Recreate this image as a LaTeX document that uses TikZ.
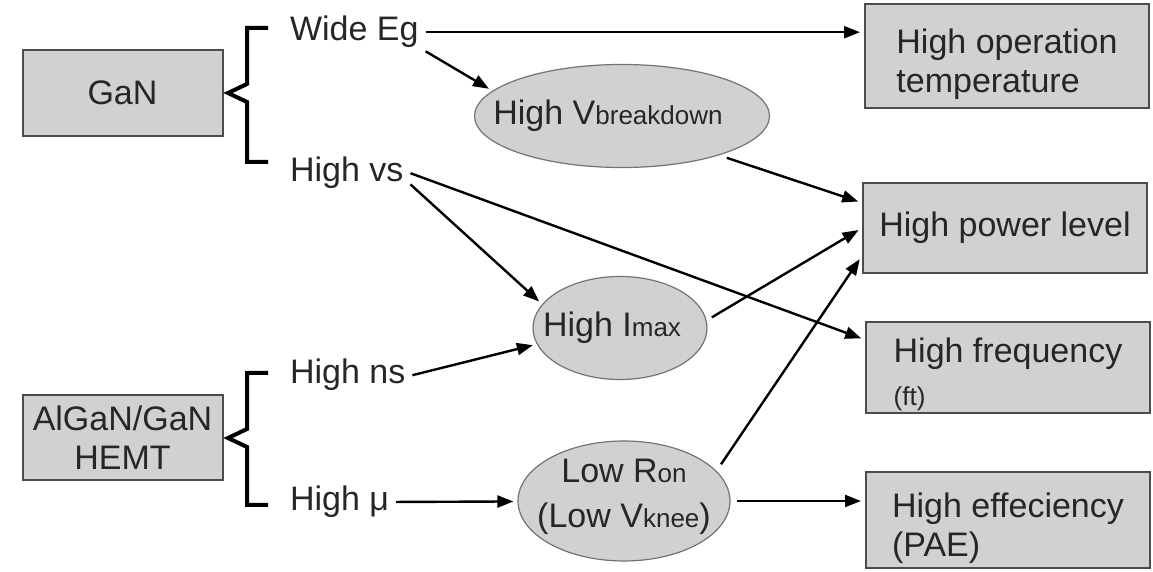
\documentclass[tikz,border=0pt]{standalone}
\usepackage{fontspec}
\setmainfont{Liberation Sans}
\usetikzlibrary{shapes.geometric,arrows.meta}
\newcommand{\lowsub}[1]{{\fontsize{13}{13}\selectfont #1}}
\begin{document}
\begin{tikzpicture}[x=0.5pt, y=-0.5pt, every node/.style={font=\fontsize{17}{19.5}\selectfont, text=black!85}]
    \tikzstyle{box} = [rectangle, draw=black!70, line width=1pt, fill=black!18, minimum width=142pt, inner ysep=1pt]
    \tikzstyle{oval} = [ellipse, draw=black!55, line width=0.6pt, fill=black!18, inner sep=0pt]
    \tikzstyle{prop} = [anchor=base west]
    \tikzstyle{edge} = [-{Triangle[length=8pt,width=6pt]}, line width=1.2pt, shorten >=2pt]
    \tikzstyle{brace} = [line width=2pt, line join=miter]

    \useasboundingbox (0,0) rectangle (1153,572);

    \node[box, minimum width=100pt, minimum height=43pt] (gan) at (122.5,93) {GaN};
    \node[box, minimum width=100pt, minimum height=42.5pt, align=center] (hemt) at (122.5,437.5) {AlGaN/GaN\\HEMT};

    \node[prop] (wideeg) at (283,41) {Wide Eg};
    \node[prop] (highvs) at (283,182) {High vs};
    \node[prop] (highns) at (283,384) {High ns};
    \node[prop] (highmu) at (283,511) {High μ};

    \node[oval, minimum width=147.5pt, minimum height=51.5pt, label={[xshift=-7pt]center:High V\lowsub{breakdown}}] (vbreak) at (622,116) {};
    \node[oval, minimum width=87pt, minimum height=51.5pt, label={[xshift=-4pt]center:High I\lowsub{max}}] (imax) at (620,328) {};
    \node[oval, minimum width=106pt, minimum height=60pt, label={[align=center, yshift=2pt]center:{Low R\lowsub{on}\\[3pt](Low V\lowsub{knee})}}] (lowron) at (624,501) {};

    \node[box, minimum height=52pt, align=left] (optemp) at (1007,56) {\rule{0pt}{21pt}High operation\\temperature};
    \node[box, minimum height=45pt] (power) at (1005,228) {High power level};
    \node[box, minimum height=45.5pt, align=left] (freq) at (1008,367.5) {\rule{0pt}{19.5pt}High frequency\\[2pt]\lowsub{(ft)}};
    \node[box, minimum height=48pt, align=left] (eff) at (1008,520) {\rule{0pt}{20.5pt}High effeciency\\(PAE)};

    % the two brackets
    \draw[brace] (268,28) -- (247,28) -- (247,84) -- (228,93) -- (247,102) -- (247,162) -- (268,162);
    \draw[brace] (268,373) -- (247,373) -- (247,429) -- (228,438) -- (247,447) -- (247,505) -- (268,505);

    \draw[edge] (wideeg.east) -- (wideeg.east -| optemp.west);
    \draw[edge] (wideeg.-15) -- (vbreak.169);
    \draw[edge, shorten <=4pt] (vbreak.-22) -- (power.170);
    \draw[edge] (highvs.-10) -- (imax.163);
    \draw[edge] (highvs.east) -- (freq.169);
    \draw[edge] (highns.east) -- (imax.191);
    \draw[edge, shorten <=3pt] (imax.5) -- (power.west);
    \draw[edge] (highmu) -- (lowron);
    \draw[edge, shorten <=4pt] (lowron.18) -- (power.191);
    \draw[edge, shorten <=3pt] (lowron.east) -- (lowron.east -| eff.west);
\end{tikzpicture}
\end{document}
